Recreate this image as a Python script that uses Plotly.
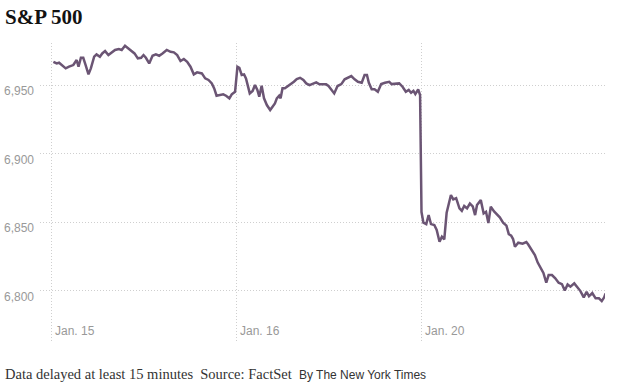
import plotly.graph_objects as go

# Intraday S&P 500 readings: minutes after the 9:30 open, per trading day
day_labels = ["Jan. 15", "Jan. 16", "Jan. 20"]

jan15_min = [5, 12, 17, 23, 31, 38, 47, 54, 58, 63, 68, 73, 79, 84, 91, 96, 103, 108, 114, 121,
             128, 135, 143, 149, 156, 162, 169, 176, 183, 190, 195, 200, 207, 214, 221, 228, 235,
             244, 252, 259, 266, 273, 280, 287, 294, 301, 308, 318, 325, 332, 339, 344, 349, 356,
             363, 369, 376, 381, 388]
jan15_val = [6967.0, 6965.8, 6966.3, 6964.6, 6962.2, 6963.4, 6964.6, 6968.3, 6963.4, 6969.9,
             6969.9, 6964.6, 6957.8, 6962.2, 6970.7, 6972.4, 6970.7, 6973.1, 6974.8, 6971.9,
             6973.9, 6975.6, 6976.3, 6975.6, 6978.7, 6976.8, 6974.8, 6973.1, 6969.5, 6969.9,
             6971.9, 6969.9, 6965.8, 6971.4, 6972.4, 6971.4, 6973.1, 6975.6, 6974.3, 6973.9,
             6971.9, 6967.5, 6969.0, 6967.0, 6963.4, 6957.8, 6959.3, 6958.5, 6954.9, 6953.7,
             6951.2, 6947.6, 6942.2, 6942.7, 6943.2, 6942.2, 6940.3, 6943.2, 6945.1]

jan16_min = [3, 7, 12, 17, 21, 26, 29, 35, 40, 45, 49, 54, 59, 65, 72, 77, 82, 86, 91, 94, 98,
             103, 108, 115, 122, 128, 135, 142, 148, 155, 162, 169, 176, 183, 190, 195, 200, 207,
             214, 222, 229, 236, 243, 250, 257, 265, 271, 276, 280, 286, 292, 299, 306, 314, 323,
             328, 337, 344, 351, 358, 364, 369, 374, 378, 384, 388]
jan16_val = [6963.4, 6962.6, 6957.3, 6957.8, 6954.9, 6948.8, 6943.9, 6945.6, 6950.0, 6946.4,
             6941.5, 6949.5, 6940.3, 6935.4, 6931.8, 6934.2, 6936.6, 6940.3, 6942.2, 6940.3,
             6947.6, 6947.6, 6948.8, 6950.5, 6952.4, 6954.4, 6955.3, 6953.7, 6951.2, 6950.0,
             6951.2, 6952.0, 6950.5, 6950.5, 6950.5, 6949.3, 6946.9, 6943.9, 6949.3, 6950.7,
             6954.2, 6955.6, 6956.6, 6954.2, 6952.4, 6951.7, 6957.3, 6957.3, 6951.7, 6946.9,
             6946.9, 6945.1, 6950.7, 6951.7, 6952.4, 6950.7, 6951.2, 6951.2, 6948.8, 6945.1,
             6946.4, 6944.4, 6945.8, 6943.4, 6946.9, 6942.7]

jan20_min = [1, 5, 11, 16, 21, 28, 33, 39, 44, 49, 54, 63, 68, 74, 81, 86, 91, 97, 103, 109, 114,
             118, 126, 132, 137, 142, 147, 154, 166, 173, 180, 185, 190, 194, 198, 205, 214, 222,
             226, 234, 240, 246, 253, 258, 264, 269, 276, 283, 290, 297, 303, 309, 315, 323, 330,
             336, 343, 349, 354, 361, 368, 375, 381, 386, 389]
jan20_val = [6857.3, 6849.5, 6848.5, 6855.1, 6848.5, 6847.8, 6844.2, 6835.6, 6839.3, 6837.4,
             6856.9, 6869.7, 6866.6, 6867.5, 6860.0, 6858.2, 6861.7, 6860.0, 6863.5, 6861.4,
             6855.1, 6862.4, 6866.0, 6856.3, 6857.5, 6849.3, 6861.2, 6857.7, 6853.4, 6849.6,
             6847.4, 6841.2, 6840.1, 6837.6, 6832.0, 6834.9, 6834.2, 6835.4, 6833.6, 6828.8,
             6825.9, 6820.4, 6816.0, 6812.8, 6805.7, 6811.3, 6811.3, 6808.9, 6805.7, 6804.7,
             6800.0, 6804.4, 6802.8, 6805.2, 6802.2, 6799.6, 6795.0, 6799.1, 6795.8, 6798.2,
             6794.3, 6794.3, 6792.3, 6795.0, 6797.8]

y_ticks = [6800, 6850, 6900, 6950]
y_tick_labels = ["6,800", "6,850", "6,900", "6,950"]

SESSION = 390  # minutes per trading session
days = [(jan15_min, jan15_val), (jan16_min, jan16_val), (jan20_min, jan20_val)]
xs, ys = [], []
for i, (mins, vals) in enumerate(days):
    xs += [i * SESSION + m for m in mins]
    ys += vals

fig = go.Figure()
fig.add_trace(go.Scatter(x=xs, y=ys, mode="lines",
                         line=dict(color="#6b5574", width=2.5),
                         hoverinfo="skip"))

grid = dict(showgrid=True, gridcolor="#cfcfcf", gridwidth=1, griddash="1px,2px",
            zeroline=False, showline=False, ticks="", automargin=False)

fig.update_layout(
    width=620, height=388,
    margin=dict(l=40, r=15, t=43, b=45, pad=0),
    paper_bgcolor="white", plot_bgcolor="white",
    showlegend=False,
    title=dict(text="<b>S&amp;P 500</b>", xref="container", yref="container",
               x=5 / 620, y=1 - 17 / 388, xanchor="left", yanchor="middle",
               font=dict(family="Liberation Serif", size=21, color="#121212")),
    xaxis=dict(range=[-23.2, 1167.8], tickvals=[0, SESSION, 2 * SESSION], ticktext=day_labels,
               ticklabelposition="inside right", ticklabelshift=4,
               tickfont=dict(family="Liberation Sans", size=12, color="#999999"), **grid),
    yaxis=dict(range=[6761.7, 6980.7], tickvals=y_ticks, ticktext=y_tick_labels,
               ticklabelshift=6, ticklabelstandoff=5,
               tickfont=dict(family="Liberation Sans", size=12, color="#999999"), **grid),
    annotations=[dict(
        xref="paper", yref="paper", x=-37 / 565, y=-31 / 300, xanchor="left", yanchor="middle",
        showarrow=False,
        text=("Data delayed at least 15 minutes&nbsp;&nbsp;Source:&nbsp;FactSet&nbsp;&nbsp;"
              "<span style=\"font-family:'Liberation Sans';font-size:12px\">By The New York Times</span>"),
        font=dict(family="Liberation Serif", size=14.5, color="#333333"))],
)

fig.write_html("out.html", config={"displayModeBar": False, "staticPlot": True},
               post_script="document.body.style.margin='0px';document.body.style.overflow='hidden';")
